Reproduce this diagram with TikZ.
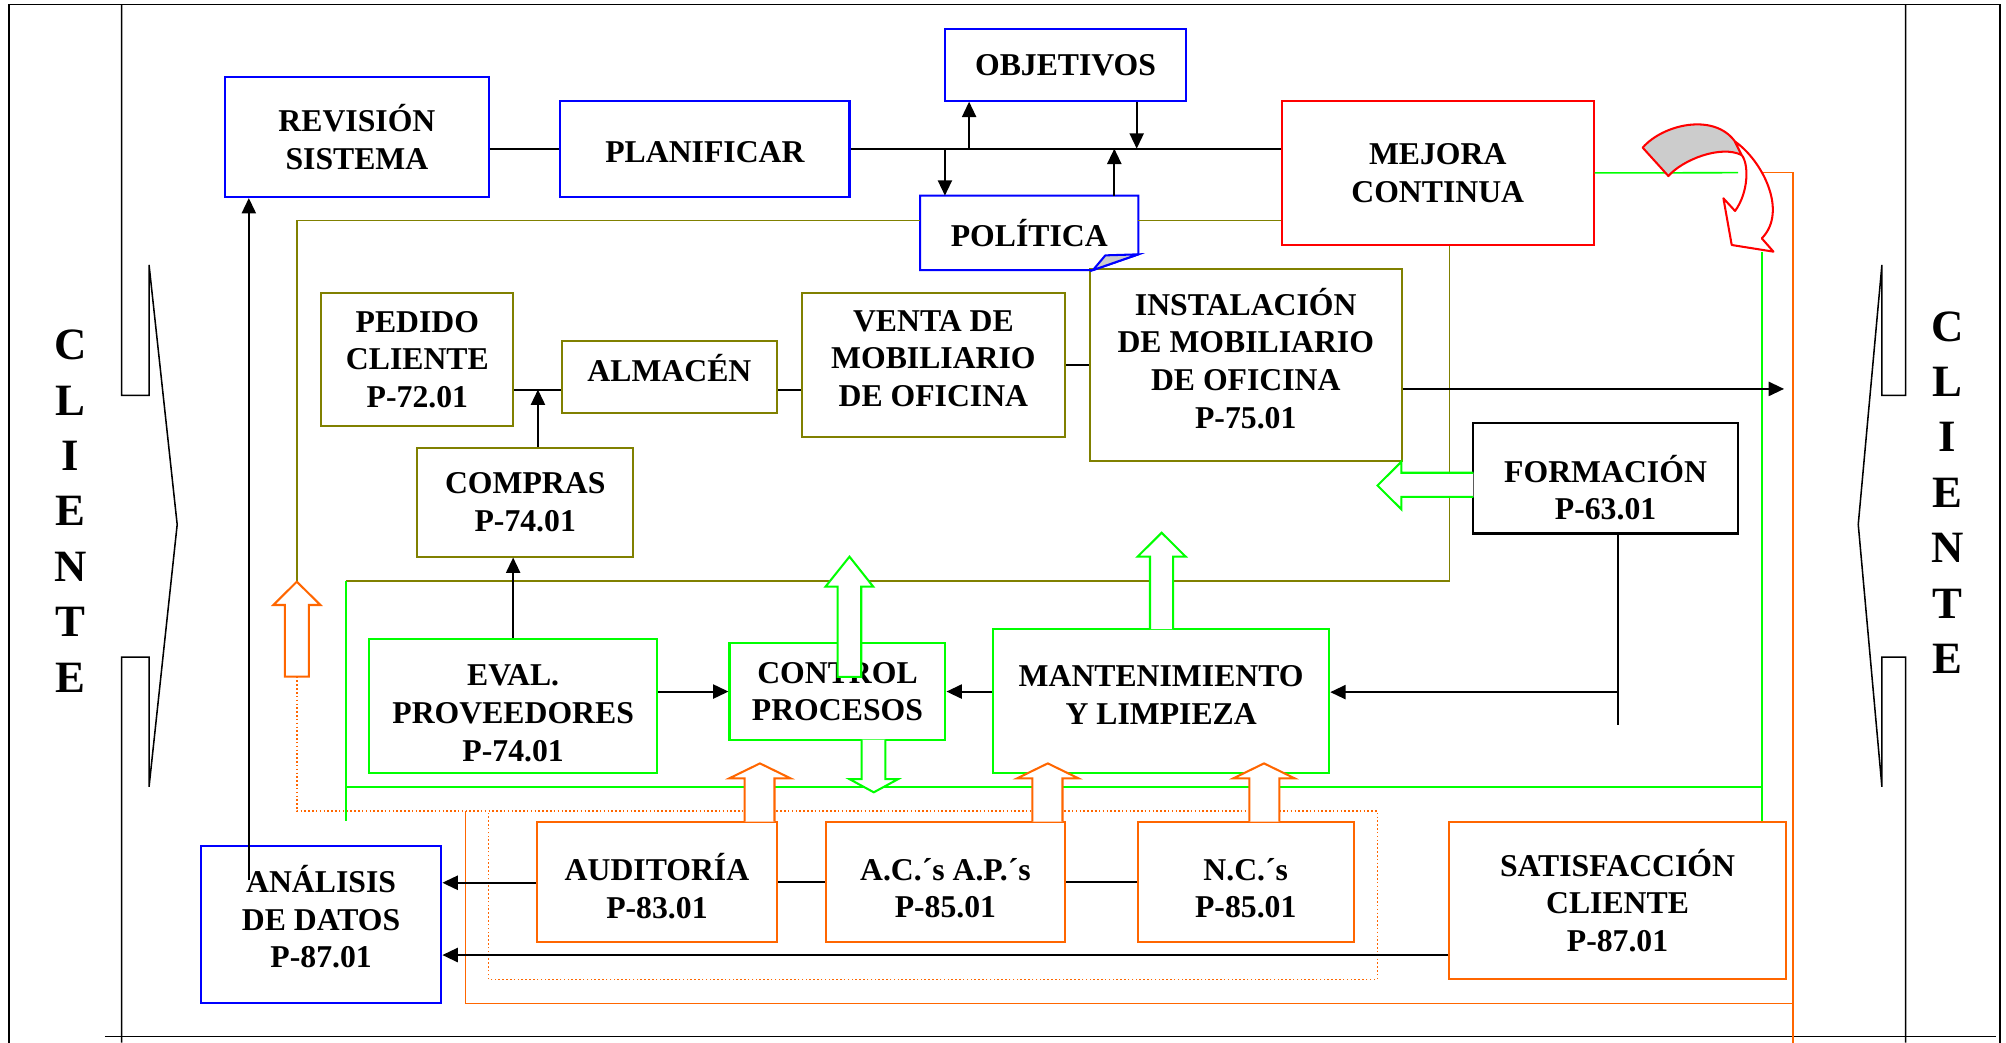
\documentclass[tikz,border=0pt]{standalone}
\usepackage{fontspec}
\setmainfont{Liberation Serif}
\usepackage{tikz}
\usetikzlibrary{arrows.meta}
\definecolor{sgc_blue}{HTML}{0000FF}
\definecolor{sgc_red}{HTML}{FF0000}
\definecolor{sgc_olive}{HTML}{808000}
\definecolor{sgc_green}{HTML}{00FF00}
\definecolor{sgc_orange}{HTML}{FF6600}
\definecolor{sgc_gray}{HTML}{CCCCCC}
\newcommand{\procfont}{\bfseries\fontsize{12.4}{14.7}\selectfont}
\newcommand{\clientfont}{\bfseries\fontsize{17.5}{21.65}\selectfont}
% extra depth on the last line / extra height on the first line of a box text
\newcommand{\lift}[2]{\raisebox{0pt}[\height][\dimexpr\depth+#1\relax]{#2}}
\newcommand{\sink}[2]{\raisebox{0pt}[\dimexpr\height+#1\relax][\depth]{#2}}

\begin{document}
\begin{tikzpicture}[x=0.5pt, y=-0.5pt,
        box/.style={draw, line width=0.8pt, fill=white, align=center, inner sep=0pt, font=\procfont},
        conn/.style={line width=0.8pt},
        thin/.style={line width=0.6pt},
        arr/.style={conn, -{Triangle[length=6pt, width=5.5pt]}},
        frame/.style={line width=0.6pt},
        hollow/.style={line width=0.8pt, fill=white, line join=miter}]
    \useasboundingbox (0,0) rectangle (1568,815);

    % frame and client sides
    \draw[frame] (7,815) -- (7,3.6) -- (1563.4,3.6) -- (1563.4,815);
    \draw[frame] (82,810.3) -- (1560,810.3);
    \draw[frame] (95,3.6) -- (95,309) -- (116.5,309) -- (116.5,207) -- (138.5,410) -- (116.5,615) -- (116.5,513.6) -- (95,513.6) -- (95,815);
    \draw[frame] (1489.6,3.6) -- (1489.6,309) -- (1471,309) -- (1471,207) -- (1452.5,410) -- (1471,615) -- (1471,513.6) -- (1489.6,513.6) -- (1489.6,815);
    \node[font=\clientfont, align=center] (cliL) at (55,399.5) {C\\L\\I\\E\\N\\T\\E};
    \node[font=\clientfont, align=center] (cliR) at (1522,385) {C\\L\\I\\E\\N\\T\\E};

    % direccion
    \node[box, draw=sgc_blue, minimum width=103pt, minimum height=47pt] (rev) at (279,107) {REVISIÓN\\SISTEMA};
    \node[box, draw=sgc_blue, minimum width=113pt, minimum height=37.5pt] (plan) at (551,116.2) {\sink{3pt}{PLANIFICAR}};
    \node[box, draw=sgc_blue, minimum width=93.9pt, minimum height=28pt] (obj) at (832.9,50.7) {OBJETIVOS};
    \node[box, draw=none, minimum width=84.5pt, minimum height=28.3pt] (pol) at (804.5,182) {POLÍTICA};
    \node[box, draw=sgc_red, minimum width=121.9pt, minimum height=56.4pt] (mej) at (1123.8,135.1) {MEJORA\\CONTINUA};

    % realizacion
    \node[box, draw=sgc_olive, minimum width=75pt, minimum height=51.9pt] (ped) at (326.25,281.15) {PEDIDO\\CLIENTE\\P-72.01};
    \node[box, draw=sgc_olive, minimum width=84.25pt, minimum height=28.15pt] (alm) at (523.25,294.45) {\lift{7pt}{ALMACÉN}};
    \node[box, draw=sgc_olive, minimum width=102.9pt, minimum height=56pt] (ven) at (729.6,285.3) {VENTA DE\\MOBILIARIO\\\lift{5pt}{DE OFICINA}};
    \node[box, draw=sgc_olive, minimum width=121.75pt, minimum height=75pt] (ins) at (973.75,285) {INSTALACIÓN\\DE MOBILIARIO\\DE OFICINA\\\lift{5pt}{P-75.01}};
    \node[box, draw=sgc_olive, minimum width=84.25pt, minimum height=42.5pt] (com) at (410.55,392.5) {COMPRAS\\P-74.01};
    \node[box, draw=black, minimum width=103.3pt, minimum height=43pt] (form) at (1255,374) {\sink{7pt}{FORMACIÓN}\\P-63.01};

    % apoyo
    \node[box, draw=sgc_green, minimum width=112.5pt, minimum height=52.15pt] (eva) at (401.1,551.85) {\sink{5.6pt}{EVAL.}\\PROVEEDORES\\P-74.01};
    \node[box, draw=sgc_green, minimum width=84.4pt, minimum height=37.65pt] (con) at (654.6,540.55) {CONTROL\\PROCESOS};
    \node[box, draw=sgc_green, minimum width=131.4pt, minimum height=56.15pt] (man) at (907.6,547.85) {MANTENIMIENTO\\\lift{4.5pt}{Y LIMPIEZA}};

    % medicion
    \node[box, draw=sgc_blue, minimum width=94pt, minimum height=61.65pt] (ana) at (251,722.65) {ANÁLISIS\\DE DATOS\\\lift{6pt}{P-87.01}};
    \node[box, draw=sgc_orange, minimum width=93.7pt, minimum height=47pt] (aud) at (513.5,689.3) {\sink{3.5pt}{AUDITORÍA}\\P-83.01};
    \node[box, draw=sgc_orange, minimum width=93.5pt, minimum height=47pt] (acc) at (739,689.3) {\sink{5pt}{A.C.´s A.P.´s}\\P-85.01};
    \node[box, draw=sgc_orange, minimum width=84.45pt, minimum height=47pt] (ncs) at (973.75,689.3) {\sink{5pt}{N.C.´s}\\P-85.01};
    \node[box, draw=sgc_orange, minimum width=131.65pt, minimum height=61.5pt] (sat) at (1264.35,703.8) {SATISFACCIÓN\\CLIENTE\\P-87.01};

    % folded corner of politica
    \draw[line width=0.8pt, sgc_blue] (pol.south west) -- (pol.north west) -- (pol.north east)
        -- ([yshift=6.15pt]pol.south east) -- ([xshift=-17.75pt]pol.south east) -- cycle;
    \filldraw[line width=0.8pt, fill=sgc_gray, draw=sgc_blue] ([xshift=-17.75pt]pol.south east)
        -- ([xshift=-12.9pt, yshift=5.75pt]pol.south east) -- ([yshift=6.15pt]pol.south east) -- cycle;

    % loops
    \draw[thin, sgc_olive] (pol.west |- 0,172.5) -- (232,172.5) -- (232,454.7);
    \draw[thin, sgc_olive] (pol.east |- 0,172.5) -- (mej.west |- 0,172.5);
    \draw[thin, sgc_olive] (mej.south -| 1133,0) -- (1133,454.2) -- (270.4,454.2);
    \draw[thin, sgc_green] (mej.east) -- (1358.6,135);
    \draw[thin, sgc_green] (1377.3,196.7) -- (sat.north -| 1377.3,0);
    \draw[thin, sgc_green] (1377.3,615.3) -- (270.4,615.3);
    \draw[thin, sgc_green] (270.4,454.2) -- (270.4,642);
    \draw[thin, sgc_orange] (1378.4,135) -- (1401.3,135) -- (1401.3,815);
    \draw[thin, sgc_orange] (1401.3,784.3) -- (364,784.3) -- (364,633.7);
    \draw[thin, sgc_orange, dash pattern=on 0.6pt off 0.9pt] (232,528.9) -- (232,634) -- (1076.6,634)
        -- (1076.6,765.5) -- (382,765.5) -- (382,634);

    % planificacion
    \coordinate (o1) at (757.5,116.2);
    \coordinate (o2) at (888.5,116.2);
    \coordinate (p1) at (738.6,116.2);
    \coordinate (p2) at (871,116.2);
    \draw[conn] (rev.east |- plan) -- (plan.west);
    \draw[conn] (plan.east) -- (plan.east -| mej.west);
    \draw[arr] (o1) -- (o1 |- obj.south);
    \draw[arr] (o2 |- obj.south) -- (o2);
    \draw[arr] (p1) -- (p1 |- pol.north);
    \draw[arr] (p2 |- pol.north) -- (p2);

    % flujo
    \draw[conn] (ped.east |- 0,304.5) -- (alm.west |- 0,304.5);
    \draw[conn] (alm.east |- 0,304.5) -- (ven.west |- 0,304.5);
    \draw[conn] (ven.east) -- (ins.west |- ven.east);
    \draw[arr] (com.north -| 420.5,0) -- (420.5,304.5);
    \draw[arr] (eva.north) -- (eva.north |- com.south);
    \draw[arr] (eva.east |- con) -- (con.west);
    \draw[arr] (man.west |- con) -- (con.east);
    \draw[frame] (form.south -| 1264.5,0) -- (1264.5,567);
    \draw[arr] (1264.5,541) -- (man.east |- 0,541);
    \draw[arr] (ins.east |- 0,304) -- (1394.5,304);

    % datos
    \coordinate (a1) at (194.5,688);
    \draw[arr] (a1) -- (a1 |- rev.south);
    \draw[arr] (aud.west |- 0,690) -- (ana.east |- 0,690);
    \draw[frame] (aud) -- (acc);
    \draw[frame] (acc) -- (ncs);
    \draw[arr] (sat.west |- 0,746.5) -- (ana.east |- 0,746.5);

    % hollow arrows
    \draw[hollow, draw=sgc_orange] (222.6,528.9) -- (222.6,472.9) -- (213.6,472.9) -- (232,454.7) -- (250.5,472.9) -- (241.5,472.9) -- (241.5,528.9) -- cycle;
    \draw[hollow, draw=sgc_orange] (582,642.3) -- (582,608.4) -- (570,608.4) -- (594,596.7) -- (618,608.4) -- (605.4,608.4) -- (605.4,642.3);
    \draw[hollow, draw=sgc_orange] (807,642.3) -- (807,608.4) -- (795,608.4) -- (819,596.7) -- (843,608.4) -- (830.5,608.4) -- (830.5,642.3);
    \draw[hollow, draw=sgc_orange] (976.5,642.3) -- (976.5,608.4) -- (964,608.4) -- (988,596.7) -- (1012,608.4) -- (1000,608.4) -- (1000,642.3);
    \draw[hollow, draw=sgc_green] (654.7,529) -- (654.7,458.6) -- (645.2,458.6) -- (664,435.1) -- (682.6,458.6) -- (673.2,458.6) -- (673.2,529) -- cycle;
    \draw[hollow, draw=sgc_green] (673.5,578.2) -- (673.5,609) -- (664,609) -- (683,619.3) -- (702,609) -- (692,609) -- (692,578.2);
    \draw[hollow, draw=sgc_green] (898.9,491.7) -- (898.9,435.1) -- (889.2,435.1) -- (908,416.4) -- (926.8,435.1) -- (917,435.1) -- (917,491.7);
    \draw[hollow, draw=sgc_green] (1151.7,369.5) -- (1095.4,369.5) -- (1095.4,360.9) -- (1076.7,379.5) -- (1095.4,398.1) -- (1095.4,388.3) -- (1151.7,388.3);

    % mejora continua arrow
    \filldraw[line width=0.8pt, fill=sgc_gray, draw=sgc_red, line join=round] (1284,115.4) -- (1304.1,137.6)
        .. controls (1315,125) and (1345,113) .. (1361.4,121.2) -- (1356.2,110.7)
        .. controls (1340,88) and (1300,97) .. cycle;
    \filldraw[line width=0.8pt, fill=white, draw=sgc_red, line join=round] (1356.2,110.7)
        .. controls (1377,125) and (1398,165) .. (1377.1,186.3) -- (1386.2,196.7) -- (1353.6,191.5)
        -- (1347.1,155) -- (1356.2,164.9) .. controls (1367,150) and (1367,128) .. (1361.4,121.2) -- cycle;
\end{tikzpicture}
\end{document}
